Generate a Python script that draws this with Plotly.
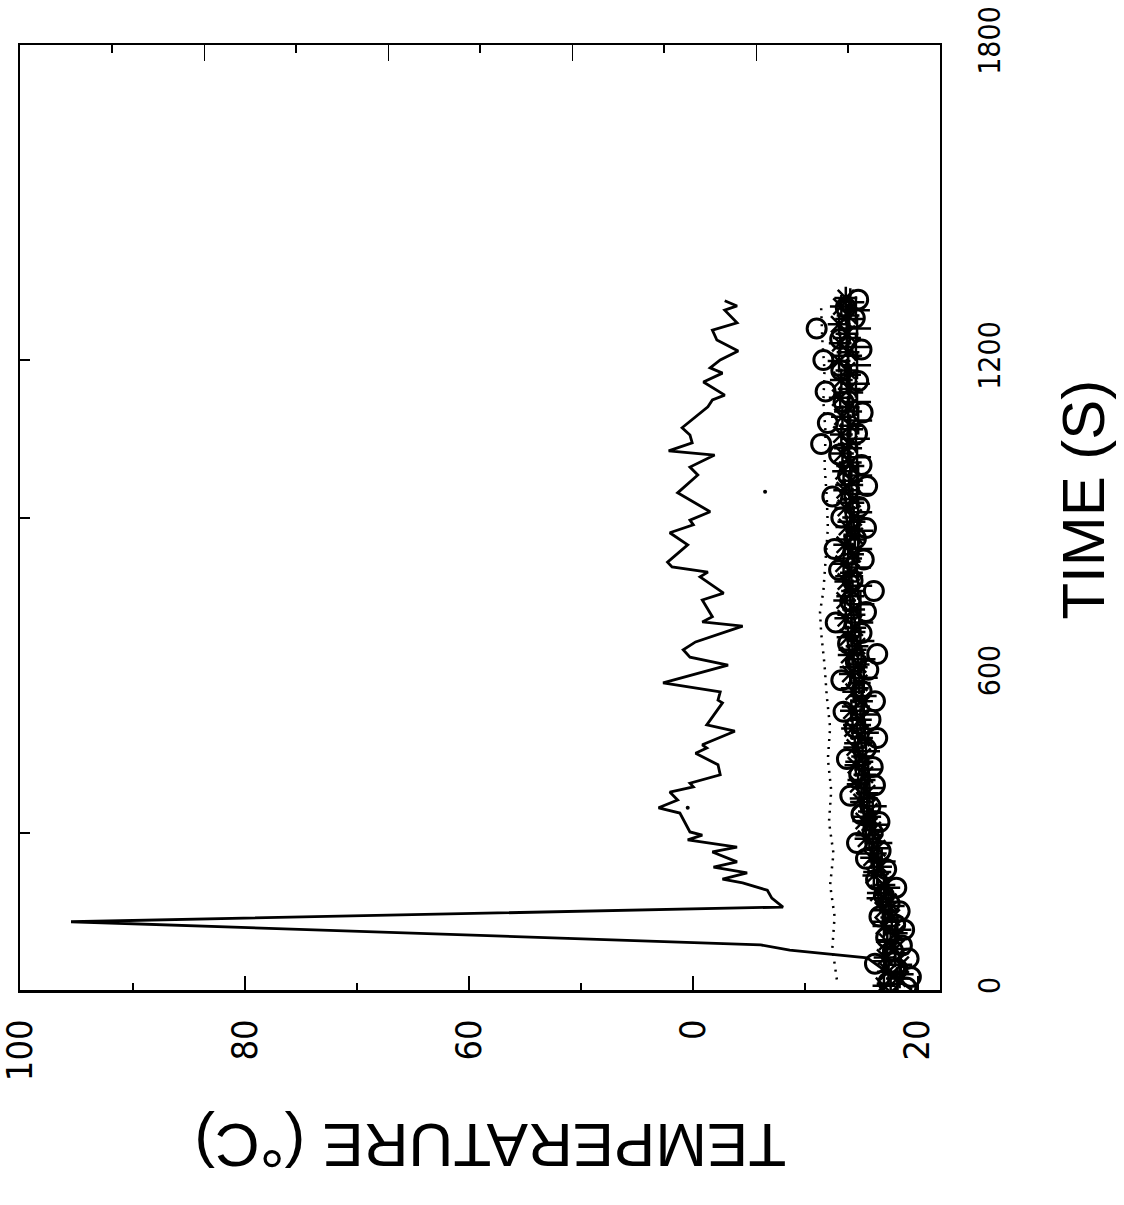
import plotly.graph_objects as go

# ---------------- data ----------------
# solid line (hot gas): time (s) and temperature (deg C)
solid_time = [0, 30, 61, 76, 86, 130, 158, 175, 190, 204, 211, 223, 234, 244, 263, 272,
              286, 295, 301, 337, 347, 362, 377, 387, 394, 410, 429, 451, 461, 467, 493,
              505, 547, 552, 568, 585, 619, 634, 648, 663, 693, 701, 711, 743, 756, 787,
              796, 806, 815, 848, 871, 886, 895, 911, 933, 947, 981, 996, 1019, 1027, 1042,
              1057, 1071, 1111, 1124, 1133, 1158, 1175, 1185, 1200, 1217, 1238, 1257, 1271,
              1295, 1303, 1313]
solid_temp = [20.5, 22.5, 24.5, 31.4, 34.0, 95.5, 32.0, 33.0, 33.4, 35.6, 37.4, 35.2, 38.2,
              36.1, 38.3, 36.1, 40.5, 39.2, 40.3, 41.2, 43.1, 41.4, 42.1, 40.0, 40.3, 37.6,
              37.8, 39.8, 38.8, 39.2, 36.3, 38.8, 37.4, 37.8, 37.6, 42.7, 36.9, 40.3, 40.9,
              39.8, 35.6, 39.2, 38.3, 39.2, 37.3, 39.4, 38.7, 41.9, 42.3, 40.5, 42.1, 40.0,
              40.3, 38.5, 40.3, 41.4, 39.6, 40.3, 38.1, 42.2, 40.1, 40.3, 41.0, 38.7, 38.3,
              37.2, 39.1, 37.4, 38.5, 37.6, 36.0, 37.9, 38.3, 36.1, 37.2, 36.1, 37.2]

# dotted line
dot_time = [20, 80, 140, 200, 260, 320, 380, 440, 500, 560, 620, 680, 720, 760, 820, 880,
            940, 1000, 1060, 1120, 1180, 1240, 1300]
dot_temp = [27.2, 27.6, 27.4, 27.8, 27.5, 27.9, 27.7, 28.0, 27.8, 28.1, 28.3, 28.6, 28.7,
            28.4, 28.2, 28.0, 28.1, 28.3, 28.2, 28.4, 28.3, 28.5, 28.6]

# circles
circ_time = [5, 15, 25, 40, 50, 60, 75, 85, 100, 115, 125, 140, 150, 165, 180, 195, 210, 230,
             250, 265, 280, 300, 320, 335, 350, 370, 390, 410, 425, 440, 460, 480, 500, 515,
             530, 550, 570, 590, 610, 625, 640, 660, 680, 700, 720, 740, 760, 780, 800, 820,
             840, 860, 880, 900, 920, 940, 960, 980, 1000, 1020, 1040, 1060, 1080, 1100,
             1120, 1140, 1160, 1180, 1200, 1220, 1240, 1260, 1280, 1300, 1315]
circ_temp = [21.0, 22.6, 20.6, 21.8, 23.8, 20.8, 22.2, 21.4, 22.8, 21.2, 22.0, 23.4, 21.6,
             22.5, 23.0, 21.9, 23.7, 22.8, 24.6, 23.3, 25.4, 24.0, 23.4, 25.0, 24.2, 26.0,
             23.8, 25.2, 24.0, 26.3, 24.6, 23.6, 25.6, 24.2, 26.6, 23.8, 25.0, 26.8, 24.4,
             25.5, 23.6, 26.2, 25.0, 27.3, 24.6, 26.0, 23.9, 25.8, 27.0, 24.8, 27.4, 25.5,
             24.6, 26.8, 25.2, 27.6, 24.5, 26.2, 25.0, 27.0, 28.6, 25.4, 28.0, 24.9, 26.6,
             28.2, 25.3, 26.8, 28.4, 25.0, 26.9, 29.0, 25.6, 26.4, 25.3]

# asterisks
ast_time = [8, 22, 35, 48, 62, 78, 92, 108, 122, 138, 152, 168, 185, 200, 218, 235, 252, 270,
            288, 305, 322, 340, 358, 375, 392, 410, 428, 445, 462, 480, 498, 515, 532, 550,
            568, 585, 602, 620, 638, 655, 672, 690, 708, 725, 742, 760, 778, 795, 812, 830,
            848, 865, 882, 900, 918, 935, 952, 970, 988, 1005, 1022, 1040, 1058, 1075, 1092,
            1110, 1128, 1145, 1162, 1180, 1198, 1215, 1232, 1250, 1268, 1285, 1302, 1318]
ast_temp = [23.0, 21.8, 22.6, 21.5, 22.9, 22.0, 22.7, 21.9, 23.0, 22.3, 23.1, 22.6, 23.5,
            23.0, 23.9, 23.3, 24.1, 23.6, 24.6, 24.0, 24.8, 24.3, 25.0, 24.5, 25.3, 24.7,
            25.5, 24.9, 25.6, 25.0, 25.8, 25.1, 25.9, 25.0, 25.7, 25.2, 26.0, 25.3, 26.1,
            25.4, 26.2, 25.6, 26.4, 25.7, 26.5, 25.8, 26.4, 25.9, 26.6, 25.8, 26.5, 25.6,
            26.3, 25.7, 26.4, 25.8, 26.5, 25.9, 26.6, 26.0, 26.7, 26.1, 26.8, 26.0, 26.7,
            26.2, 26.9, 26.1, 26.8, 26.3, 27.0, 26.2, 26.9, 26.3, 27.0, 26.2, 26.8, 26.4]

# crosses
cross_time = [12, 30, 55, 70, 95, 115, 130, 160, 175, 195, 225, 245, 260, 280, 295, 315, 330,
              350, 365, 385, 400, 420, 435, 455, 470, 490, 505, 525, 540, 560, 575, 595, 615,
              630, 648, 665, 682, 700, 715, 735, 750, 770, 788, 805, 822, 840, 858, 875, 892,
              910, 928, 945, 962, 980, 998, 1015, 1032, 1050, 1068, 1085, 1102, 1120, 1138,
              1155, 1172, 1190, 1208, 1225, 1242, 1260, 1278, 1295, 1310]
cross_temp = [22.4, 21.6, 22.8, 22.0, 22.4, 21.8, 22.9, 22.4, 23.3, 22.8, 23.6, 23.2, 24.0,
              23.5, 24.3, 23.8, 24.5, 24.0, 24.8, 24.3, 25.0, 24.4, 25.2, 24.6, 25.3, 24.7,
              25.4, 24.8, 25.5, 24.9, 25.6, 24.8, 25.7, 25.0, 25.8, 25.1, 25.9, 25.2, 25.9,
              25.1, 26.0, 25.3, 26.1, 25.4, 26.2, 25.3, 26.0, 25.2, 25.9, 25.3, 26.0, 25.4,
              26.1, 25.3, 26.0, 25.4, 26.2, 25.5, 26.1, 25.3, 26.2, 25.4, 26.1, 25.5, 26.3,
              25.4, 26.2, 25.5, 26.3, 25.4, 26.1, 25.5, 26.0]

# stray specks
speck_time = [347, 949]
speck_temp = [40.5, 33.6]

# axis labels
temp_tickvals = [100, 80, 60, 40, 20]
temp_ticktext = ["100", "80", "60", "0", "20"]
time_tickvals = [0, 600, 1200, 1800]
time_ticktext = ["0", "600", "1200", "1800"]

# ---------------- figure ----------------
TICKFONT = "DejaVu Sans Condensed, Liberation Sans Narrow, Liberation Sans, Arial"
TITLEFONT = "Liberation Sans, Arial, sans-serif"

fig = go.Figure()

fig.add_trace(go.Scatter(x=dot_temp, y=dot_time, mode="lines",
                         line=dict(color="black", width=2.5, dash="2px,6px"),
                         hoverinfo="skip", showlegend=False))
fig.add_trace(go.Scatter(x=solid_temp, y=solid_time, mode="lines",
                         line=dict(color="black", width=2.8),
                         showlegend=False))
fig.add_trace(go.Scatter(x=circ_temp, y=circ_time, mode="markers",
                         marker=dict(symbol="circle-open", size=19, color="black",
                                     line=dict(width=3, color="black")),
                         showlegend=False))
fig.add_trace(go.Scatter(x=ast_temp, y=ast_time, mode="markers",
                         marker=dict(symbol="asterisk-open", size=19, color="black",
                                     line=dict(width=2.5, color="black")),
                         showlegend=False))
fig.add_trace(go.Scatter(x=cross_temp, y=cross_time, mode="markers",
                         marker=dict(symbol="cross-thin-open", size=20, color="black",
                                     line=dict(width=2.5, color="black")),
                         showlegend=False))
fig.add_trace(go.Scatter(x=speck_temp, y=speck_time, mode="markers",
                         marker=dict(symbol="circle", size=4, color="black"),
                         showlegend=False, hoverinfo="skip"))
# invisible helper trace so the secondary (frame) axes render
fig.add_trace(go.Scatter(x=[0.5], y=[900], xaxis="x2", yaxis="y2", mode="markers",
                         marker=dict(opacity=0), showlegend=False, hoverinfo="skip"))

fig.update_layout(
    width=1124, height=1205,
    margin=dict(l=20, r=184, t=45, b=215, autoexpand=False),
    paper_bgcolor="white", plot_bgcolor="white",
    showlegend=False,
    xaxis=dict(range=[100.05, 18], showline=True, linewidth=3, linecolor="black",
               ticks="inside", tickvals=temp_tickvals, ticktext=temp_ticktext,
               ticklen=14, tickwidth=1.5, tickcolor="black",
               minor=dict(tickvals=[90, 70, 50, 30], ticks="inside", ticklen=7,
                          tickwidth=1.5, tickcolor="black", showgrid=False),
               tickangle=-90, tickfont=dict(family=TICKFONT, size=36, color="black"),
               ticklabelstandoff=12, ticklabeloverflow="allow", automargin=False,
               showgrid=False, zeroline=False),
    xaxis2=dict(overlaying="x", side="top", anchor="y", range=[0, 1],
                showline=True, linewidth=2, linecolor="black",
                ticks="inside", tickvals=[0.2, 0.4, 0.6, 0.8], ticklen=16, tickwidth=1,
                tickcolor="black",
                minor=dict(tickvals=[0.1, 0.3, 0.5, 0.7, 0.9], ticks="inside", ticklen=8,
                           tickwidth=2, tickcolor="black", showgrid=False),
                showticklabels=False, showgrid=False, zeroline=False, automargin=False),
    yaxis=dict(range=[0, 1800], side="right", showline=True, linewidth=2,
               linecolor="black", ticks="", tickvals=time_tickvals,
               ticktext=time_ticktext, tickangle=-90,
               tickfont=dict(family=TICKFONT, size=30, color="black"),
               ticklabelstandoff=22, ticklabeloverflow="allow", automargin=False,
               showgrid=False, zeroline=False),
    yaxis2=dict(overlaying="y", side="left", anchor="x", range=[0, 1800],
                showline=True, linewidth=2, linecolor="black",
                ticks="inside", tickvals=[300, 900, 1200], ticklen=10, tickwidth=1.5,
                tickcolor="black", showticklabels=False, showgrid=False, zeroline=False,
                automargin=False),
    annotations=[
        dict(text="TIME (S)", xref="paper", yref="paper", x=1.155, y=0.5185,
             xanchor="center", yanchor="middle", showarrow=False, textangle=-90,
             font=dict(family=TITLEFONT, size=60, color="black")),
        dict(text="TEMPERATURE (°C)", xref="paper", yref="paper", x=0.511, y=-0.164,
             xanchor="center", yanchor="middle", showarrow=False, textangle=180,
             font=dict(family=TITLEFONT, size=62, color="black")),
    ],
)

# remove the browser's default page margin so the figure fills the window exactly
fig.write_html("out.html", config={"displayModeBar": False},
               post_script="document.body.style.margin='0';")
